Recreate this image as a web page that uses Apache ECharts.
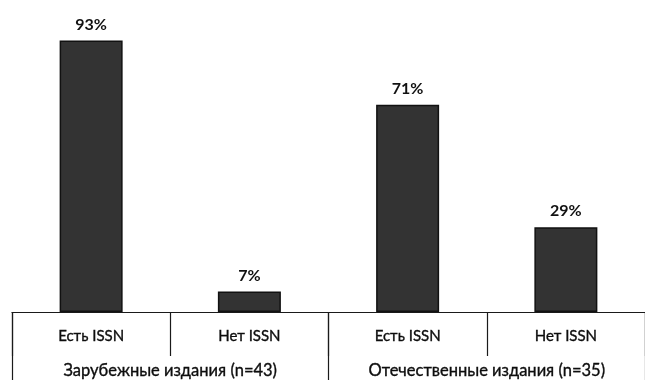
<!DOCTYPE html>
<html>
<head>
<meta charset="utf-8">
<script src="https://cdn.jsdelivr.net/npm/echarts@6/dist/echarts.min.js"></script>
<style>
  html, body { margin: 0; padding: 0; background: #ffffff; }
  #chart { width: 645px; height: 380px; }
</style>
</head>
<body>
<div id="chart"></div>
<script>
// ISSN presence in foreign and domestic publications, percent of each group
const subCategories = ['Есть ISSN', 'Нет ISSN', 'Есть ISSN', 'Нет ISSN'];
const groupCategories = ['Зарубежные издания (n=43)', 'Отечественные издания (n=35)'];
const shareValues = [93, 7, 71, 29];

const FONT = 'Lato, "Open Sans", sans-serif';
const LINE = '#1a1a1a';
const TEXT = '#0d0d0d';

const chart = echarts.init(document.getElementById('chart'), null, { renderer: 'canvas' });

chart.setOption({
  backgroundColor: '#ffffff',
  animation: false,
  grid: { left: 12, width: 640, top: 20, bottom: 68 },
  xAxis: [
    {
      type: 'category',
      data: subCategories,
      position: 'bottom',
      axisLine: { show: true, lineStyle: { color: LINE, width: 1.2 } },
      axisTick: { show: true, interval: 0, length: 44, lineStyle: { color: LINE, width: 1.2 } },
      axisLabel: {
        interval: 0, margin: 17, color: TEXT, fontFamily: FONT, fontSize: 15,
        textBorderColor: TEXT, textBorderWidth: 0.35
      }
    },
    {
      type: 'category',
      data: groupCategories,
      position: 'bottom',
      axisLine: { show: false },
      axisTick: { show: true, interval: 0, length: 68, lineStyle: { color: LINE, width: 1.2 } },
      axisLabel: {
        interval: 0, margin: 50, color: TEXT, fontFamily: FONT, fontSize: 16.5,
        textBorderColor: TEXT, textBorderWidth: 0.35
      }
    }
  ],
  yAxis: {
    type: 'value',
    min: 0,
    max: 100,
    show: false,
    splitLine: { show: false }
  },
  series: [
    {
      type: 'bar',
      xAxisIndex: 0,
      data: shareValues,
      barWidth: 63,
      itemStyle: { color: '#333333', borderColor: '#111111', borderWidth: 1.5 },
      label: {
        show: true,
        position: 'top',
        distance: 8,
        formatter: '{c}%',
        color: '#111111',
        fontFamily: FONT,
        fontWeight: 'bold',
        fontSize: 16
      }
    }
  ]
});
</script>
</body>
</html>
